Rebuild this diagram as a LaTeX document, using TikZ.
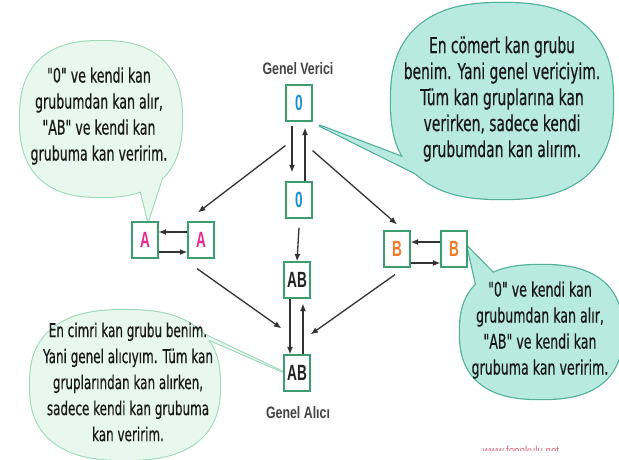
\documentclass[tikz,border=0pt]{standalone}
\usepackage{fontspec}
\usepackage{xcolor}
\usetikzlibrary{arrows.meta,backgrounds}
\newfontfamily\speechfont[FakeStretch=0.63,FakeBold=0.4]{DejaVu Sans}
\newfontfamily\groupfont[FakeStretch=0.62]{Liberation Sans}
\newfontfamily\labelfont[FakeStretch=0.75]{Liberation Sans}
\definecolor{boxgreen}{HTML}{3C9E6E}
\definecolor{grpblue}{HTML}{1A8FD6}
\definecolor{grppink}{HTML}{E8278F}
\definecolor{grporange}{HTML}{F07A2A}
\definecolor{grpdark}{HTML}{222222}
\definecolor{arrowgray}{HTML}{333333}
\definecolor{labelgray}{HTML}{444444}
\definecolor{paleleaf}{HTML}{E8F8EF}
\definecolor{paleedge}{HTML}{98D8B4}
\definecolor{aqua}{HTML}{B8EAE0}
\definecolor{aquaedge}{HTML}{4FAF98}
\definecolor{sitered}{HTML}{E86478}
% rounded speech bubble outline: centre x, centre y, half width, half height
\newcommand{\blob}[4]{plot[domain=0.5:360.5, samples=121] ({#1+#3*cos(\x)/abs(cos(\x))^0.2}, {#2+#4*sin(\x)/abs(sin(\x))^0.2})}

\begin{document}
\begin{tikzpicture}[x=1pt, y=-1pt,
  grp/.style={draw=boxgreen, line width=1.2pt, fill=white, minimum width=26pt, minimum height=36pt, inner sep=0pt, font=\groupfont\bfseries\fontsize{22}{22}\selectfont},
  arr/.style={draw=arrowgray, line width=1.3pt, -{Latex[length=7.5pt,width=6pt]}},
  speech/.style={align=center, text=black!90, font=\speechfont\fontsize{20}{26}\selectfont},
  grouplabel/.style={text=labelgray, font=\labelfont\bfseries\fontsize{16.5}{17}\selectfont},
  paleline/.style={draw=paleedge, line width=2pt, line join=round},
  aqualine/.style={draw=aquaedge, line width=2.4pt, line join=round}]
\useasboundingbox (0,0) rectangle (619,459);

% blood groups
\node[grp, text=grpblue] (O1) at (299,103) {0};
\node[grp, text=grpblue] (O2) at (299,200) {0};
\node[grp, text=grpdark] (AB1) at (297,280) {AB};
\node[grp, text=grpdark] (AB2) at (297,373) {AB};
\node[grp, text=grppink] (A1) at (145,240) {A};
\node[grp, text=grppink] (A2) at (201,240) {A};
\node[grp, text=grporange] (B1) at (397,249) {B};
\node[grp, text=grporange] (B2) at (454,249) {B};

\node[grouplabel] (verici) at (298,69) {Genel Verici};
\node[grouplabel] (alici) at (298,413) {Genel Alıcı};

% who gives to whom
\draw[arr] ([shift={(-7pt,-4pt)}]O1.south) -- ([shift={(-7pt,9pt)}]O2.north);
\draw[arr] ([xshift=6pt]O2.north) -- ([shift={(6pt,-6pt)}]O1.south);
\draw[arr] ([yshift=-9pt]O2.south) -- (AB1.north);
\draw[arr] ([xshift=-7pt]AB1.south) -- ([xshift=-7pt]AB2.north);
\draw[arr] ([xshift=6pt]AB2.north) -- ([shift={(6pt,-5pt)}]AB1.south);
\draw[arr] ([yshift=-24pt]O1.south west) -- ([shift={(-3pt,9pt)}]A2.north);
\draw[arr] ([yshift=-29pt]O1.south east) -- ([yshift=6pt]B1.north);
\draw[arr] ([yshift=8pt]A2.west) -- ([yshift=8pt]A1.east);
\draw[arr] ([yshift=-12pt]A1.east) -- ([yshift=-12pt]A2.west);
\draw[arr] ([yshift=7pt]B2.west) -- ([yshift=7pt]B1.east);
\draw[arr] ([yshift=-14pt]B1.east) -- ([yshift=-14pt]B2.west);
\draw[arr] ([shift={(-4pt,-10pt)}]A2.south) -- ([shift={(-2pt,26pt)}]AB2.north west);
\draw[arr] ([shift={(-2pt,-7pt)}]B1.south) -- ([yshift=20pt]AB2.north east);

% what each group says
\node[speech] (noteA) at (99,116) {"0" ve kendi kan\\grubumdan kan alır,\\"AB" ve kendi kan\\grubuma kan veririm.};
\node[speech, font=\speechfont\fontsize{22}{26}\selectfont] (noteO) at (502,99) {En cömert kan grubu\\benim. Yani genel vericiyim.\\Tüm kan gruplarına kan\\verirken, sadece kendi\\grubumdan kan alırım.};
\node[speech] (noteB) at (540,330) {"0" ve kendi kan\\grubumdan kan alır,\\"AB" ve kendi kan\\grubuma kan veririm.};
\node[speech, font=\speechfont\fontsize{19}{26}\selectfont] (noteAB) at (128,382) {En cimri kan grubu benim.\\Yani genel alıcıyım. Tüm kan\\gruplarından kan alırken,\\sadece kendi kan grubuma\\kan veririm.};

\begin{scope}
  \clip (440,430) rectangle (619,450.5);
  \node[text=sitered, font=\labelfont\fontsize{13}{13}\selectfont, anchor=base] (site) at (521,455) {www.fenokulu.net};
\end{scope}

\begin{scope}[on background layer]
  \fill[white] (0,0) rectangle (619,459);
  % bubble outlines first, then the fills over their inner half
  \draw[paleline] \blob{101}{119}{81}{78};
  \draw[paleline] ([xshift=3pt]A1.north) -- (138,180) -- (164,172) -- cycle;
  \draw[aqualine] \blob{502}{101}{111}{98};
  \draw[aqualine] ([shift={(7pt,-4pt)}]O1.south east) -- (410,160) -- (435,183) -- cycle;
  \draw[aqualine] \blob{541}{332}{81}{67};
  \draw[aqualine] ([yshift=2pt]B2.east) -- (505,285) -- (482,310) -- cycle;
  \draw[paleline] \blob{125}{385}{95}{75};
  \draw[paleline] ([yshift=1pt]AB2.west) -- (195,330) -- (205,338) -- cycle;
  \fill[paleleaf] \blob{101}{119}{81}{78};
  \fill[paleleaf] ([xshift=3pt]A1.north) -- (138,180) -- (164,172) -- cycle;
  \fill[aqua] \blob{502}{101}{111}{98};
  \fill[aqua] ([shift={(7pt,-4pt)}]O1.south east) -- (410,160) -- (435,183) -- cycle;
  \fill[aqua] \blob{541}{332}{81}{67};
  \fill[aqua] ([yshift=2pt]B2.east) -- (505,285) -- (482,310) -- cycle;
  \fill[paleleaf] \blob{125}{385}{95}{75};
  \fill[paleleaf] ([yshift=1pt]AB2.west) -- (195,330) -- (205,338) -- cycle;
\end{scope}
\end{tikzpicture}
\end{document}
